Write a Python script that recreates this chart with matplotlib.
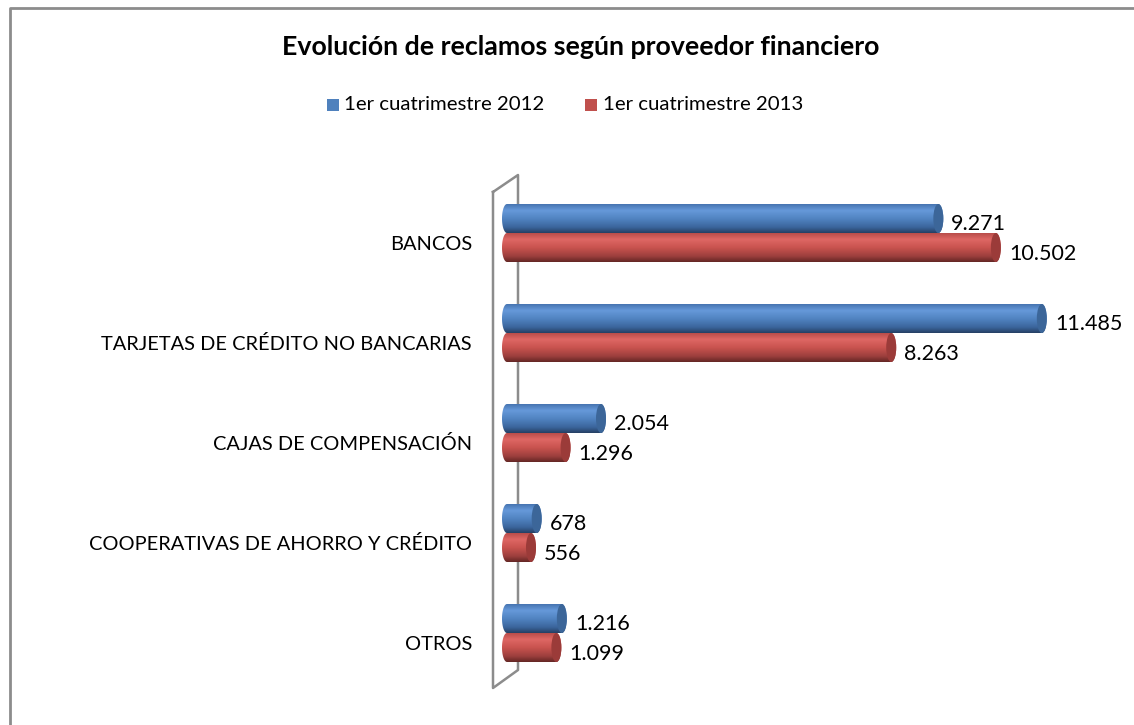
import numpy as np
import matplotlib
matplotlib.use("Agg")
import matplotlib.pyplot as plt
from matplotlib.path import Path
from matplotlib.patches import PathPatch, Ellipse, Rectangle
from matplotlib.colors import LinearSegmentedColormap
from matplotlib.lines import Line2D

plt.rcParams['font.family'] = ['Lato', 'DejaVu Sans']

title = "Evolución de reclamos según proveedor financiero"
categories = ["BANCOS", "TARJETAS DE CRÉDITO NO BANCARIAS", "CAJAS DE COMPENSACIÓN",
              "COOPERATIVAS DE AHORRO Y CRÉDITO", "OTROS"]
series_names = ["1er cuatrimestre 2012", "1er cuatrimestre 2013"]
values_2012 = [9271, 11485, 2054, 678, 1216]
values_2013 = [10502, 8263, 1296, 556, 1099]
labels_2012 = ["9.271", "11.485", "2.054", "678", "1.216"]
labels_2013 = ["10.502", "8.263", "1.296", "556", "1.099"]

W, H = 1134, 725
fig = plt.figure(figsize=(W / 100, H / 100), dpi=100)
fig.patch.set_facecolor("white")

# axes geometry in pixels
ax_left, ax_right = 502, 1100
zero_px = 510
ax_top, ax_bot = 183, 683
px_per_unit = 0.04674
xmin = -(zero_px - ax_left) / px_per_unit
xmax = (ax_right - zero_px) / px_per_unit
ax = fig.add_axes([ax_left / W, (H - ax_bot) / H, (ax_right - ax_left) / W, (ax_bot - ax_top) / H])
ax.set_xlim(xmin, xmax)
ax.set_ylim(4.5, -0.5)
ax.axis("off")

def fx(px):
    return px / W

def fy(py):
    return 1 - py / H

# outer frame (left and top)
fig.add_artist(Line2D([fx(10), fx(10), fx(1134)], [fy(730), fy(8), fy(8)],
                      color="#8c8c8c", lw=2.0, zorder=-5))

# 3D wall
wall_x = [493, 518, 518, 493, 493]
wall_y = [192, 175, 670, 688, 192]
fig.add_artist(Line2D([fx(v) for v in wall_x], [fy(v) for v in wall_y],
                      color="#8c8c8c", lw=1.8, zorder=-4))

blue_cmap = LinearSegmentedColormap.from_list("b", [
    (0.0, "#4674b0"), (0.22, "#6699da"), (0.5, "#5184c2"), (0.8, "#3b659c"), (1.0, "#253f63")])
red_cmap = LinearSegmentedColormap.from_list("r", [
    (0.0, "#b84c49"), (0.22, "#de6764"), (0.5, "#c9534f"), (0.8, "#9c3f3d"), (1.0, "#632624")])
cap_colors = ["#3c6699", "#9b3b39"]

bar_h = 0.29
rx = 5.0 / px_per_unit  # half-width of end ellipses in data units
grad = np.linspace(0, 1, 256).reshape(-1, 1)

def cylinder(v, y0, cmap, capc):
    yc = y0 + bar_h / 2
    ry = bar_h / 2
    x0 = xmin
    x_end = v - rx
    x_start = x0 + rx
    if x_end < x_start:
        x_end = x_start
    t1 = np.linspace(np.pi / 2, 3 * np.pi / 2, 40)
    left = np.column_stack([x_start + rx * np.cos(t1), yc - ry * np.sin(t1)])
    t2 = np.linspace(-np.pi / 2, np.pi / 2, 40)
    right = np.column_stack([x_end + rx * np.cos(t2), yc - ry * np.sin(t2)])
    verts = np.vstack([left, right, left[:1]])
    codes = [Path.MOVETO] + [Path.LINETO] * (len(verts) - 2) + [Path.CLOSEPOLY]
    path = Path(verts, codes)
    patch = PathPatch(path, facecolor="none", edgecolor="none", transform=ax.transData)
    ax.add_patch(patch)
    im = ax.imshow(grad, cmap=cmap, aspect="auto", extent=[x0, v, y0 + bar_h, y0],
                   origin="upper", zorder=3, interpolation="bilinear")
    im.set_clip_path(patch)
    cap = Ellipse((x_end, yc), 2 * rx, bar_h, facecolor=capc, edgecolor="none", zorder=4)
    ax.add_patch(cap)

for i in range(len(categories)):
    cylinder(values_2012[i], i - bar_h, blue_cmap, cap_colors[0])
    cylinder(values_2013[i], i, red_cmap, cap_colors[1])
    ax.annotate(labels_2012[i], xy=(values_2012[i], i - bar_h / 2), xytext=(8, -6),
                textcoords="offset pixels", ha="left", va="center", fontsize=15.5,
                color="black", annotation_clip=False)
    ax.annotate(labels_2013[i], xy=(values_2013[i], i + bar_h / 2), xytext=(8, -6),
                textcoords="offset pixels", ha="left", va="center", fontsize=15.5,
                color="black", annotation_clip=False)
    ax.annotate(categories[i], xy=(0, i), xycoords=("axes fraction", "data"), xytext=(-30, -11),
                textcoords="offset pixels", ha="right", va="center", fontsize=14.4,
                color="black", annotation_clip=False)

# title
fig.text(fx(581), fy(47), title, ha="center", va="center", fontsize=19.3, fontweight="bold")

# legend
leg_items = [(327, 344, "#4f81bd", series_names[0]), (585, 603, "#c0504d", series_names[1])]
for sx, tx, col, name in leg_items:
    fig.add_artist(Rectangle((fx(sx), fy(111)), fx(12), 12 / H, facecolor=col, edgecolor="none"))
    fig.text(fx(tx), fy(105), name, ha="left", va="center", fontsize=14.7)

fig.savefig("out.png", dpi=100, facecolor="white")
